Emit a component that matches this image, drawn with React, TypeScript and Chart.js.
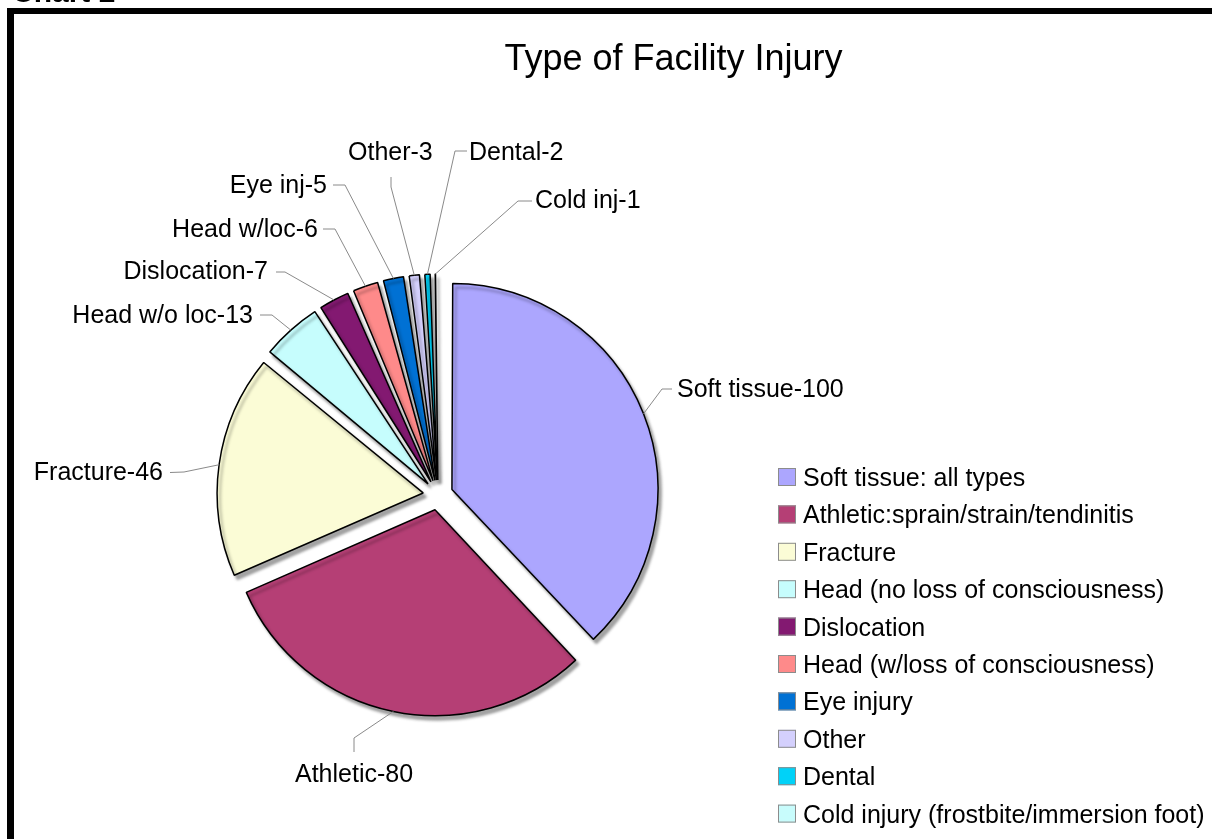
import React, { useEffect, useRef } from 'react';
import { Chart, registerables } from 'chart.js';

Chart.register(...registerables);

// ---- data ----
const categories = [
  'Soft tissue: all types',
  'Athletic:sprain/strain/tendinitis',
  'Fracture',
  'Head (no loss of consciousness)',
  'Dislocation',
  'Head (w/loss of consciousness)',
  'Eye injury',
  'Other',
  'Dental',
  'Cold injury (frostbite/immersion foot)',
];
const shortLabels = ['Soft tissue', 'Athletic', 'Fracture', 'Head w/o loc', 'Dislocation', 'Head w/loc', 'Eye inj', 'Other', 'Dental', 'Cold inj'];
const values = [100, 80, 46, 13, 7, 6, 5, 3, 2, 1];
const colors = ['#aca6fe', '#b53f75', '#fbfcd6', '#c6fdfd', '#831971', '#fe8a8a', '#0071d4', '#d4d0fd', '#00d2f8', '#c8fcfc'];
const title = 'Type of Facility Injury';
const header = 'Chart 2';

// ---- layout (callout positions) ----
const labelTextPos: [number, number][] = [
  [677, 397], [295, 782], [163, 480], [253, 323], [268, 279],
  [318, 237], [327, 193], [348, 160], [469, 160], [535, 208],
];
const labelAlign: CanvasTextAlign[] = ['left', 'left', 'right', 'right', 'right', 'right', 'right', 'left', 'left', 'left'];
const leaderStart: [number, number][] = [
  [672, 389], [354, 752], [170, 472.5], [260, 315], [276, 272],
  [323, 229], [333, 185], [391, 177], [467, 151], [532, 201],
];
const leaderElbow: [number, number][] = [
  [662, 389], [354, 738], [184, 472], [272, 315], [285, 272],
  [335, 229], [345, 185], [391, 187], [455, 151], [518, 201],
];

const W = 1212;
const H = 839;
const RADIUS = 206;
const EXPLODE = 15;
const CX = 438;
const CY = 495;
const FONT = '"Liberation Sans", Arial, sans-serif';

const decorPlugin = {
  id: 'decor',
  afterDatasetUpdate(chart: any, args: any) {
    // keep all exploded slices on the same radius
    args.meta.data.forEach((el: any) => {
      const c = el.circumference || 0;
      const fix = 1 - Math.sin(Math.min(Math.PI, c));
      el.outerRadius = RADIUS - EXPLODE * fix;
    });
  },
  beforeDraw(chart: any) {
    const ctx = chart.ctx;
    ctx.save();
    ctx.fillStyle = '#fff';
    ctx.fillRect(0, 0, W, H);
    ctx.fillStyle = '#000';
    ctx.fillRect(7, 8, W - 7, 6);
    ctx.fillRect(7, 8, 7, H - 8);
    ctx.font = `bold 30px ${FONT}`;
    ctx.textAlign = 'left';
    ctx.textBaseline = 'alphabetic';
    ctx.fillText(header, 12, 2);
    ctx.font = `36px ${FONT}`;
    ctx.textAlign = 'center';
    ctx.fillText(title, 673.5, 70);
    ctx.restore();
  },
  beforeDatasetsDraw(chart: any) {
    const ctx = chart.ctx;
    ctx.save();
    ctx.shadowColor = 'rgba(0,0,0,0.35)';
    ctx.shadowOffsetX = 3;
    ctx.shadowOffsetY = 4;
    ctx.shadowBlur = 3;
  },
  afterDatasetsDraw(chart: any) {
    const ctx = chart.ctx;
    ctx.restore();
    ctx.save();
    const meta = chart.getDatasetMeta(0);
    // leader lines
    ctx.strokeStyle = '#8a8a8a';
    ctx.lineWidth = 1;
    meta.data.forEach((el: any, i: number) => {
      const mid = (el.startAngle + el.endAngle) / 2;
      const px = el.x + Math.cos(mid) * (RADIUS + EXPLODE);
      const py = el.y + Math.sin(mid) * (RADIUS + EXPLODE);
      ctx.beginPath();
      ctx.moveTo(leaderStart[i][0], leaderStart[i][1]);
      ctx.lineTo(leaderElbow[i][0], leaderElbow[i][1]);
      ctx.lineTo(px, py);
      ctx.stroke();
    });
    // callout text
    ctx.fillStyle = '#000';
    ctx.font = `25px ${FONT}`;
    ctx.textBaseline = 'alphabetic';
    shortLabels.forEach((s, i) => {
      ctx.textAlign = labelAlign[i];
      ctx.fillText(`${s}-${values[i]}`, labelTextPos[i][0], labelTextPos[i][1]);
    });
    // legend
    const bx = 778;
    const y0 = 477;
    const step = 37.4;
    const box = 18;
    ctx.textAlign = 'left';
    categories.forEach((c, i) => {
      const cy = y0 + i * step;
      ctx.fillStyle = colors[i];
      ctx.fillRect(bx, cy - box / 2, box, box);
      ctx.strokeStyle = '#8c8c8c';
      ctx.lineWidth = 1;
      ctx.strokeRect(bx + 0.5, cy - box / 2 + 0.5, box - 1, box - 1);
      ctx.fillStyle = '#000';
      ctx.fillText(c, 803, cy + 9);
    });
    ctx.restore();
  },
};

export default function App() {
  const ref = useRef<HTMLCanvasElement | null>(null);
  useEffect(() => {
    if (!ref.current) return;
    const chart = new Chart(ref.current, {
      type: 'pie',
      data: {
        labels: categories,
        datasets: [
          {
            data: values,
            backgroundColor: colors,
            borderColor: '#000',
            borderWidth: 1.5,
            offset: EXPLODE * 4,
            radius: RADIUS,
          } as any,
        ],
      },
      options: {
        responsive: false,
        animation: false,
        devicePixelRatio: 1,
        radius: RADIUS,
        layout: {
          padding: { left: CX - 250, right: W - (CX + 250), top: CY - 250, bottom: H - (CY + 250) },
        },
        plugins: {
          legend: { display: false },
          title: { display: false },
          tooltip: { enabled: false },
        },
        events: [],
      } as any,
      plugins: [decorPlugin],
    });
    return () => chart.destroy();
  }, []);
  return (
    <div style={{ position: 'absolute', left: 0, top: 0, width: W, height: H, overflow: 'hidden' }}>
      <canvas ref={ref} width={W} height={H} style={{ display: 'block', width: W, height: H }} />
    </div>
  );
}
